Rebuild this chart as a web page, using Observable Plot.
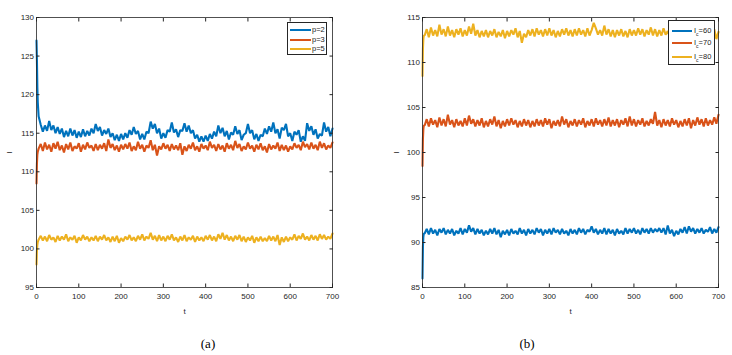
<!DOCTYPE html>
<html><head><meta charset="utf-8">
<script src="https://cdn.jsdelivr.net/npm/d3@7"></script>
<script src="https://cdn.jsdelivr.net/npm/@observablehq/plot@0.6"></script>
<style>
body{margin:0;background:#fff;}
#wrap{position:relative;width:732px;height:355px;background:#fff;overflow:hidden;font-family:"Liberation Sans",Arial,sans-serif;}
.leg{position:absolute;background:#fff;border:1px solid #262626;box-sizing:border-box;}
.row{position:absolute;left:0;height:10px;font-size:7.5px;color:#262626;}
.sw{position:absolute;top:4px;height:2px;}
.lt{position:absolute;top:0;line-height:10px;white-space:nowrap;}
.cap{position:absolute;font-family:"Liberation Serif","Times New Roman",serif;font-size:13px;color:#000;transform:translateX(-50%);}
</style></head>
<body><div id="wrap">
<div id="pa" style="position:absolute;left:0;top:0"></div>
<div id="pb" style="position:absolute;left:370px;top:0"></div>
<div id="legA" class="leg" style="left:287px;top:22px;width:40px;height:33px"></div>
<div id="legB" class="leg" style="left:668px;top:20px;width:47px;height:45px"></div>
<div class="cap" style="left:208px;top:336px">(a)</div>
<div class="cap" style="left:527px;top:336px">(b)</div>
</div>
<script>
const tVals = [0,1,2,3,5,10,15,20,25,30,35,40,45,50,55,60,65,70,75,80,85,90,95,100,105,110,115,120,125,130,135,140,145,150,155,160,165,170,175,180,185,190,195,200,205,210,215,220,225,230,235,240,245,250,255,260,265,270,275,280,285,290,295,300,305,310,315,320,325,330,335,340,345,350,355,360,365,370,375,380,385,390,395,400,405,410,415,420,425,430,435,440,445,450,455,460,465,470,475,480,485,490,495,500,505,510,515,520,525,530,535,540,545,550,555,560,565,570,575,580,585,590,595,600,605,610,615,620,625,630,635,640,645,650,655,660,665,670,675,680,685,690,695,700];

// panel (a)
const aP2 = [127.0,124.5,121.0,119.0,
117.2,116.1,115.2,116.0,115.3,116.6,115.4,116.0,115.0,115.8,
114.9,115.6,114.5,115.3,114.6,115.6,114.7,115.4,114.4,115.2,
114.5,115.5,114.6,115.3,114.7,115.6,115.0,116.2,115.3,115.8,
114.7,115.4,114.9,115.6,114.5,115.0,114.1,114.8,114.0,114.9,
114.2,115.0,114.4,115.4,114.8,115.8,114.9,115.3,114.2,114.9,
114.2,115.2,115.0,116.5,115.6,116.2,115.0,115.6,114.3,115.0,
114.4,115.4,115.2,116.4,115.1,115.5,114.5,115.4,115.3,116.3,
115.2,116.0,115.0,115.4,114.3,114.8,113.9,114.6,113.9,114.7,
114.0,114.9,114.3,115.2,114.6,116.0,115.0,115.7,114.6,115.3,
114.2,115.1,114.8,115.9,114.9,115.4,114.1,114.8,115.0,116.2,
115.0,115.4,114.2,114.9,114.0,114.8,114.6,115.6,114.9,115.9,
115.2,116.4,115.0,115.5,114.3,115.7,115.4,116.2,114.6,115.0,
114.0,115.2,114.8,115.4,113.9,114.6,114.0,116.3,115.3,115.9,
114.8,115.5,114.3,114.9,114.7,116.4,115.2,115.8,114.6,115.6];
const aP3 = [108.5,111.0,112.2,112.6,
113.0,113.6,112.7,113.8,112.9,113.5,112.6,113.7,113.0,113.9,
112.8,113.4,112.5,113.6,112.9,113.8,112.7,113.3,113.0,113.7,
112.6,113.5,112.9,113.8,113.1,113.4,112.7,113.6,112.8,113.5,
113.0,113.7,112.7,114.2,113.1,113.6,112.8,113.4,112.6,113.5,
112.9,113.6,113.0,113.8,112.7,113.3,112.8,113.9,113.0,113.5,
112.6,113.4,113.1,114.1,112.8,113.5,112.1,113.3,112.9,113.7,
113.0,113.5,112.7,113.6,112.9,113.4,112.8,113.7,112.2,113.3,
112.7,113.5,113.0,113.8,112.8,113.3,112.6,113.6,113.0,113.4,
112.8,113.9,113.1,113.5,112.7,113.6,112.9,113.4,112.6,113.7,
113.0,113.5,112.8,114.0,113.1,113.6,112.7,113.3,112.9,113.8,
113.0,113.4,112.6,113.5,112.9,113.7,112.8,113.3,112.5,113.6,
112.9,113.4,113.0,113.8,112.7,113.5,112.8,113.4,112.6,113.3,
112.9,113.7,113.1,113.5,112.8,113.9,113.2,113.6,112.9,113.8,
113.0,113.5,112.8,113.9,113.1,113.7,112.9,113.4,113.1,113.8];
const aP5 = [98.0,99.8,100.5,100.9,
101.2,101.7,101.1,101.6,101.0,101.8,101.2,101.5,100.9,101.7,
101.1,101.6,101.2,101.9,101.0,101.5,101.2,101.7,100.8,101.5,
101.1,101.8,101.2,101.6,101.0,101.5,101.1,101.7,101.0,101.6,
101.2,101.8,101.1,101.5,100.9,101.6,101.0,101.7,100.8,101.4,
101.0,101.6,101.2,101.8,101.1,101.5,101.0,101.7,101.2,101.9,
101.1,101.6,101.3,102.1,101.2,101.7,101.0,101.8,101.1,101.6,
101.0,101.7,101.2,101.9,101.1,101.5,100.9,101.6,101.1,101.8,
101.0,101.5,101.2,101.7,100.9,101.6,101.1,101.5,101.0,101.7,
101.2,101.8,101.1,101.6,101.0,101.9,101.3,102.1,101.2,101.8,
101.1,101.6,101.0,101.7,101.2,101.8,101.0,101.6,100.9,101.5,
101.1,101.7,100.8,101.5,101.0,101.6,101.0,101.4,101.0,101.7,
101.1,101.6,101.0,101.8,100.5,101.5,100.9,101.6,101.0,101.5,
101.2,101.9,101.1,101.7,101.3,102.0,101.2,101.6,101.1,101.8,
101.2,101.7,101.1,101.9,101.3,101.8,101.2,101.6,101.3,102.0];

// panel (b)
const bI60 = [86.0,89.5,90.6,91.0,
91.0,91.5,90.9,91.6,91.0,91.4,90.8,91.5,91.1,91.6,
90.9,91.4,91.0,91.5,90.8,91.3,91.0,91.6,90.9,91.5,
91.1,91.9,91.2,91.6,90.9,91.5,91.0,91.4,90.8,91.3,
90.9,91.5,91.0,91.6,90.9,91.4,90.6,91.3,90.9,91.4,
90.8,91.5,91.0,91.3,90.9,91.6,91.0,91.4,90.8,91.5,
91.0,91.4,90.9,91.6,91.1,91.5,90.8,91.4,91.0,91.5,
90.9,91.6,91.1,91.4,90.9,91.5,91.0,91.3,90.8,91.5,
91.0,91.4,90.9,91.6,91.1,91.5,90.9,91.4,91.2,91.8,
91.1,91.5,90.9,91.4,91.0,91.6,90.9,91.5,91.0,91.4,
90.8,91.5,91.0,91.3,90.9,91.6,91.0,91.5,91.1,91.6,
91.0,91.4,90.9,91.6,91.1,91.5,91.0,91.6,91.1,91.5,
91.2,91.6,91.1,91.6,90.9,91.9,91.0,91.4,90.7,91.3,
90.9,91.5,91.1,91.7,91.0,91.8,91.2,91.6,91.0,91.5,
91.1,91.6,91.0,91.4,91.2,91.7,91.0,91.5,91.1,91.7];
const bI70 = [98.5,101.5,102.6,103.0,
103.0,103.7,102.9,103.8,103.1,103.6,102.8,103.9,103.0,103.7,
102.9,104.2,103.1,103.6,102.8,103.7,103.0,103.5,102.9,103.8,
103.0,104.1,103.2,103.7,102.9,103.6,103.0,103.8,102.8,103.5,
102.9,103.7,103.1,104.0,102.9,103.6,102.7,103.5,102.9,103.7,
103.0,103.8,103.1,103.6,102.8,103.5,102.9,103.7,103.0,103.6,
102.8,103.5,102.9,103.7,103.0,103.6,102.9,103.8,103.1,103.7,
102.7,103.5,103.0,103.6,102.9,104.0,103.1,103.7,102.8,103.5,
103.0,103.7,102.9,103.6,103.1,103.8,102.8,103.5,103.0,103.7,
102.9,103.8,103.1,103.6,102.9,103.7,103.0,103.9,102.9,103.6,
103.0,103.7,102.8,103.6,103.1,103.8,102.9,104.0,103.0,103.7,
102.9,103.6,103.1,103.8,102.9,103.5,103.0,103.7,103.2,104.5,
103.0,103.6,102.8,103.7,103.0,103.6,102.9,103.8,103.1,103.6,
102.8,103.5,102.9,103.7,103.0,103.8,102.7,103.6,103.0,103.9,
103.1,103.7,102.9,103.8,103.0,103.6,103.1,103.9,103.2,104.2];
const bI80 = [108.5,111.5,112.6,113.0,
113.0,113.7,112.8,113.9,113.0,113.6,112.9,114.2,113.1,113.7,
112.9,114.0,113.0,113.6,112.8,113.7,113.1,113.8,112.9,113.6,
113.0,114.0,113.2,114.3,113.0,113.6,112.8,113.5,112.9,113.6,
112.8,113.5,113.0,113.7,112.8,113.4,112.9,113.6,112.7,113.5,
112.9,113.6,113.1,113.8,112.8,113.5,112.2,113.2,112.8,113.6,
113.0,113.7,112.9,113.8,113.1,113.6,112.9,113.7,113.0,113.8,
113.0,113.6,112.8,113.5,112.9,113.7,113.1,113.8,113.0,113.6,
112.9,113.7,113.0,113.8,113.1,113.6,112.9,113.8,113.0,113.6,
114.4,113.8,113.1,113.6,113.0,114.1,113.1,113.7,112.9,113.6,
112.8,113.6,113.0,113.7,112.9,113.5,112.8,113.7,113.0,113.6,
113.0,113.8,113.1,113.7,112.9,113.6,113.1,113.9,113.0,113.7,
112.9,113.6,113.0,113.8,113.1,113.5,112.8,113.6,113.0,113.7,
112.8,113.5,112.9,113.6,113.0,113.8,112.9,113.7,113.1,113.6,
112.9,113.7,113.0,113.6,112.8,113.5,112.9,113.7,112.6,113.4];

const seriesA = ["p=2","p=3","p=5"];
const seriesB = ["Ic=60","Ic=70","Ic=80"];
const colors = ["#0072BD","#D95319","#EDB120"];
const xTicks = [0,100,200,300,400,500,600,700];
const yTicksA = [95,100,105,110,115,120,125,130];
const yTicksB = [85,90,95,100,105,110,115];

function rows(names, arrays) {
  return names.flatMap((n, i) => arrays[i].map((v, j) => ({t: tVals[j], v, s: n})));
}

function panel(data, names, yDomain, yTicks, width, ml, mr, lo) {
  return Plot.plot({
    width, height: 320,
    marginLeft: ml, marginRight: mr, marginTop: 17, marginBottom: 33,
    style: {fontFamily: '"Liberation Sans", Arial, sans-serif', fontSize: "8px", color: "#262626", background: "white"},
    x: {domain: [0, 700]},
    y: {domain: yDomain},
    color: {domain: names, range: colors},
    marks: [
      Plot.line(data, {x: "t", y: "v", stroke: "s", z: "s", strokeWidth: 2.1, strokeLinejoin: "miter"}),
      Plot.axisX({ticks: xTicks, tickSize: -3.5, tickPadding: 9, label: "t", labelAnchor: "center", labelArrow: "none", labelOffset: 26, fontSize: 8}),
      Plot.axisX({anchor: "top", ticks: xTicks, tickSize: -3.5, tickFormat: () => "", label: null}),
      Plot.axisY({ticks: yTicks, tickSize: -3.5, tickPadding: 6, label: "I", labelAnchor: "center", labelArrow: "none", labelOffset: lo}),
      Plot.axisY({anchor: "right", ticks: yTicks, tickSize: -3.5, tickFormat: () => "", label: null}),
      Plot.frame({stroke: "#262626", strokeWidth: 0.8})
    ]
  });
}

document.getElementById("pa").append(panel(rows(seriesA, [aP2, aP3, aP5]), seriesA, [95, 130], yTicksA, 345, 36, 13, 30));
document.getElementById("pb").append(panel(rows(seriesB, [bI60, bI70, bI80]), seriesB, [85, 115], yTicksB, 362, 52, 14, 29));

function legend(id, names, labels, lineLeft, lineW, textLeft, tops) {
  const el = document.getElementById(id);
  names.forEach((n, i) => {
    const r = document.createElement("div");
    r.className = "row";
    r.style.top = tops[i] + "px";
    r.style.width = "100%";
    r.innerHTML = `<div class="sw" style="left:${lineLeft}px;width:${lineW}px;background:${colors[i]}"></div><div class="lt" style="left:${textLeft}px">${labels[i]}</div>`;
    el.append(r);
  });
}
legend("legA", seriesA, seriesA, 2, 21, 24, [2, 12, 21]);
legend("legB", seriesB, ["I<sub style='font-size:5px'>c</sub>=60", "I<sub style='font-size:5px'>c</sub>=70", "I<sub style='font-size:5px'>c</sub>=80"], 3, 20, 25, [5, 17, 31]);
</script>
</body></html>
